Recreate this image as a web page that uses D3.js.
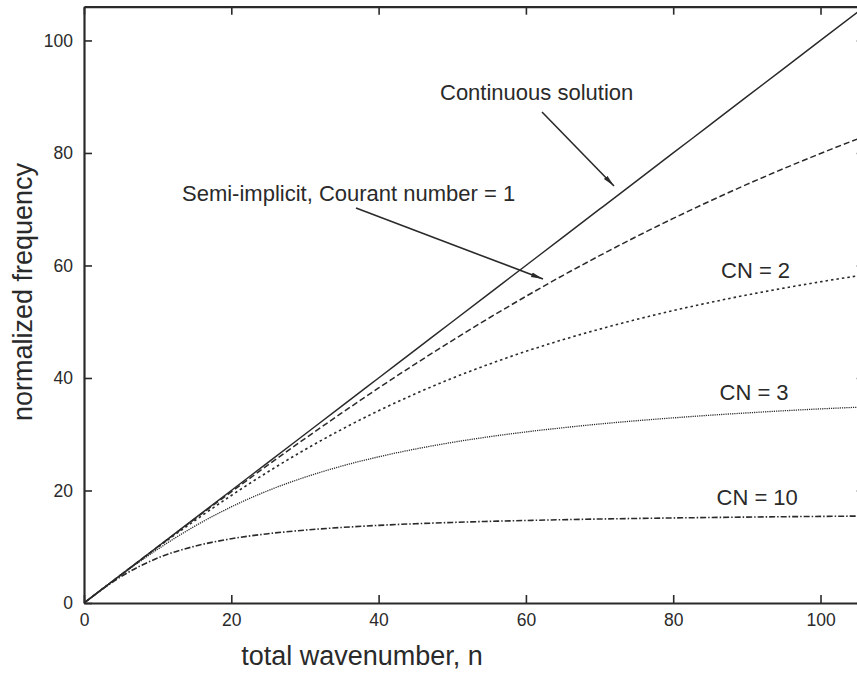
<!DOCTYPE html>
<html>
<head>
<meta charset="utf-8">
<script src="https://cdn.jsdelivr.net/npm/d3@7"></script>
<style>
  html, body { margin: 0; padding: 0; background: #fff; }
  svg { display: block; font-family: "Liberation Sans", Arial, Helvetica, sans-serif; }
</style>
</head>
<body>
<svg id="chart" width="857" height="673"></svg>
<script>
// Total wavenumber n at which each curve is sampled
const wavenumbers = [0, 2.5, 5, 10, 15, 20, 25, 30, 35, 40, 45, 50, 55, 60, 65, 70, 75, 80, 85, 90, 95, 100, 105, 106];

// Normalized frequency for each curve
const continuous = [0, 2.5, 5, 10, 15, 20, 25, 30, 35, 40, 45, 50, 55, 60, 65, 70, 75, 80, 85, 90, 95, 100, 105, 106];
const cn1  = [0, 2.5, 5.0, 9.97, 14.90, 19.76, 24.54, 29.22, 33.78, 38.22, 42.51, 46.66, 50.66, 54.51, 58.21, 61.74, 65.13, 68.36, 71.45, 74.41, 77.22, 79.91, 82.47, 82.96];
const cn2  = [0, 2.5, 4.98, 9.88, 14.61, 19.11, 23.33, 27.26, 30.87, 34.18, 37.20, 39.96, 42.45, 44.73, 46.80, 48.68, 50.40, 51.98, 53.42, 54.75, 55.97, 57.10, 58.13, 58.31];
const cn3  = [0, 2.49, 4.94, 9.55, 13.63, 17.09, 19.98, 22.36, 24.34, 25.99, 27.37, 28.55, 29.55, 30.41, 31.15, 31.82, 32.40, 32.91, 33.38, 33.79, 34.17, 34.51, 34.80, 34.86];
const cn10 = [0, 2.46, 4.67, 7.99, 10.08, 11.42, 12.32, 12.96, 13.43, 13.80, 14.09, 14.32, 14.51, 14.67, 14.81, 14.93, 15.03, 15.12, 15.20, 15.27, 15.34, 15.39, 15.45, 15.46];

const xTicks = [0, 20, 40, 60, 80, 100];
const yTicks = [0, 20, 40, 60, 80, 100];

const xTitle = "total wavenumber, n";
const yTitle = "normalized frequency";

const svg = d3.select("#chart");
const ink = "#2a2a2a";

const x = d3.scaleLinear().domain([0, 106]).range([84, 864.7]);
const y = d3.scaleLinear().domain([0, 106]).range([603, 6.7]);

const defs = svg.append("defs");

// Curves, clipped to the plotting frame
defs.append("clipPath").attr("id", "plotClip")
  .append("rect")
  .attr("x", x(0)).attr("y", y(106))
  .attr("width", x(106) - x(0)).attr("height", y(0) - y(106));

const series = [
  { values: continuous, dash: null,         width: 1.5 },
  { values: cn1,        dash: "6,3",        width: 1.5 },
  { values: cn2,        dash: "2.5,3",      width: 1.6 },
  { values: cn3,        dash: "1.2,1",      width: 1.3 },
  { values: cn10,       dash: "6,2,1.5,2",  width: 1.6 }
];

const line = d3.line()
  .x((d, i) => x(wavenumbers[i]))
  .y(d => y(d))
  .curve(d3.curveMonotoneX);

const curves = svg.append("g").attr("clip-path", "url(#plotClip)");
series.forEach(s => {
  curves.append("path")
    .datum(s.values)
    .attr("d", line)
    .attr("fill", "none")
    .attr("stroke", ink)
    .attr("stroke-width", s.width)
    .attr("stroke-dasharray", s.dash);
});

// Frame with inward ticks on all four sides
const tickLen = 8;
const axisB = d3.axisBottom(x).tickValues(xTicks).tickSizeInner(-tickLen).tickSizeOuter(0).tickPadding(12).tickFormat(d3.format("d"));
const axisT = d3.axisTop(x).tickValues(xTicks).tickSizeInner(-tickLen).tickSizeOuter(0).tickFormat("");
const axisL = d3.axisLeft(y).tickValues(yTicks).tickSizeInner(-tickLen).tickSizeOuter(0).tickPadding(11).tickFormat(d3.format("d"));
const axisR = d3.axisRight(y).tickValues(yTicks).tickSizeInner(-tickLen).tickSizeOuter(0).tickFormat("");

function styleAxis(g) {
  g.select(".domain").attr("stroke", ink).attr("stroke-width", 2.2);
  g.selectAll(".tick line").attr("stroke", ink).attr("stroke-width", 1.6);
  g.selectAll(".tick text").attr("fill", ink).attr("font-size", 17.5);
}

svg.append("g").attr("transform", `translate(0,${y(0)})`).call(axisB).call(styleAxis)
  .call(g => g.selectAll(".tick text").attr("dy", "0.62em"));
svg.append("g").attr("transform", `translate(0,${y(106)})`).call(axisT).call(styleAxis);
svg.append("g").attr("transform", `translate(${x(0)},0)`).call(axisL).call(styleAxis);
svg.append("g").attr("transform", `translate(${x(106)},0)`).call(axisR).call(styleAxis);

// Axis titles
svg.append("text")
  .attr("x", 362).attr("y", 665)
  .attr("text-anchor", "middle")
  .attr("font-size", 27)
  .attr("fill", ink)
  .text(xTitle);

svg.append("text")
  .attr("transform", "translate(32,292) rotate(-90)")
  .attr("text-anchor", "middle")
  .attr("font-size", 27)
  .attr("fill", ink)
  .text(yTitle);

// Annotations
defs.append("marker")
  .attr("id", "arrow")
  .attr("viewBox", "0 0 12 6")
  .attr("refX", 12).attr("refY", 3)
  .attr("markerWidth", 12).attr("markerHeight", 6)
  .attr("markerUnits", "userSpaceOnUse")
  .attr("orient", "auto")
  .append("path")
  .attr("d", "M0,0.6 L12,3 L0,5.4 Z")
  .attr("fill", ink);

const labels = [
  { text: "Continuous solution", x: 440, y: 100 },
  { text: "Semi-implicit, Courant number = 1", x: 182, y: 201 },
  { text: "CN = 2", x: 721, y: 278 },
  { text: "CN = 3", x: 719.5, y: 400 },
  { text: "CN = 10", x: 716.5, y: 505 }
];
svg.append("g").selectAll("text").data(labels).join("text")
  .attr("x", d => d.x).attr("y", d => d.y)
  .attr("font-size", 22)
  .attr("fill", ink)
  .text(d => d.text);

const arrows = [
  { x1: 542, y1: 112, x2: 614, y2: 186 },
  { x1: 356, y1: 208, x2: 543, y2: 279 }
];
svg.append("g").selectAll("line").data(arrows).join("line")
  .attr("x1", d => d.x1).attr("y1", d => d.y1)
  .attr("x2", d => d.x2).attr("y2", d => d.y2)
  .attr("stroke", ink)
  .attr("stroke-width", 1.6)
  .attr("marker-end", "url(#arrow)");
</script>
</body>
</html>
